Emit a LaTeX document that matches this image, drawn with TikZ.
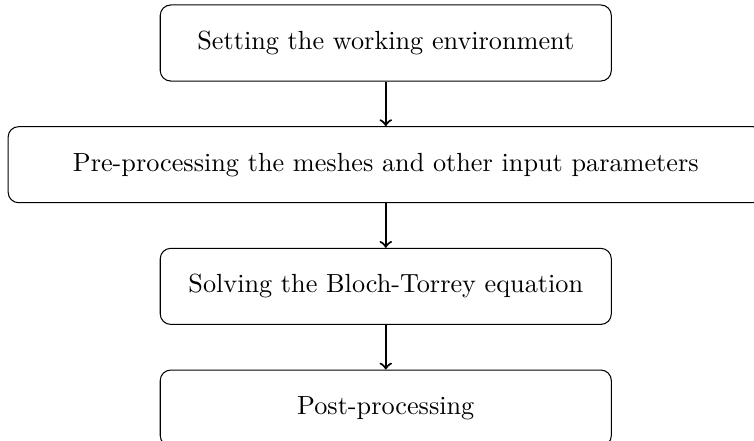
\documentclass[tikz,border=0pt]{standalone}
\usetikzlibrary{positioning}
\begin{document}
\begin{tikzpicture}[x=1pt,y=1pt,node distance=17pt,
stage/.style={draw,rounded corners,minimum width=172pt,minimum height=29pt,align=center}]
\useasboundingbox (0,0) rectangle (287.5,-167.8);
\node[stage] (setup) at (147.1,-16.4) {Setting the working environment};
\node[stage,minimum width=288pt,below=of setup] (prep) {Pre-processing the meshes and other input parameters};
\node[stage,below=of prep] (solve) {Solving the Bloch-Torrey equation};
\node[stage,below=of solve] (post) {Post-processing};
\draw[->,thick] (setup)--(prep);
\draw[->,thick] (prep)--(solve);
\draw[->,thick] (solve)--(post);
\end{tikzpicture}
\end{document}
